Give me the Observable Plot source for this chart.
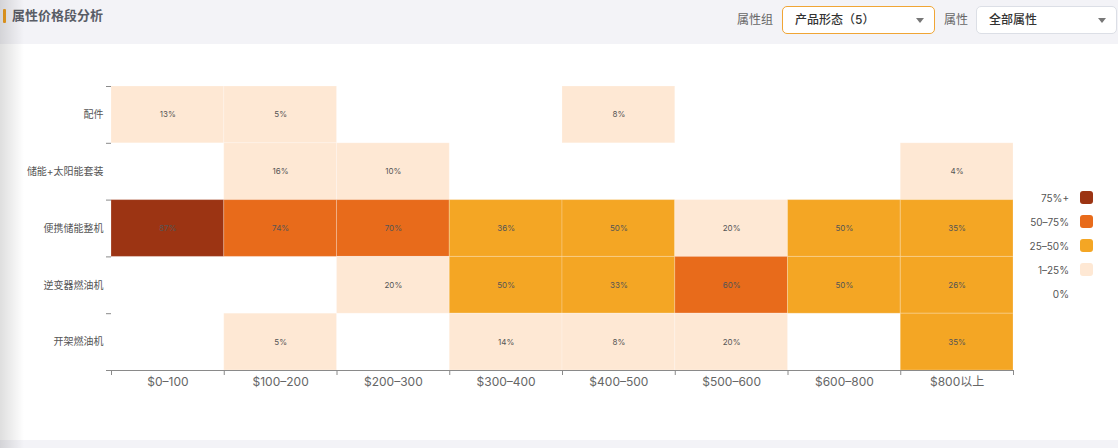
<!DOCTYPE html>
<html><head><meta charset="utf-8">
<script src="https://cdn.jsdelivr.net/npm/d3@7"></script>
<script src="https://cdn.jsdelivr.net/npm/@observablehq/plot@0.6"></script>
<style>
html,body{margin:0;padding:0;width:1118px;height:448px;overflow:hidden;background:#f3f3f7;font-family:Inter,"Noto Sans CJK SC",sans-serif;}
#header{position:absolute;left:0;top:0;width:1118px;height:44px;background:#f3f3f7;}
#title{position:absolute;left:12px;top:6px;font-size:13px;font-weight:bold;color:#595d66;line-height:18px;}
#bar{position:absolute;left:3px;top:9px;width:3px;height:14px;background:#f0a020;border-radius:1px;}
.lbl{position:absolute;top:12px;font-size:12px;color:#666;line-height:16px;}
.sel{position:absolute;top:6px;height:28px;box-sizing:border-box;background:#fff;border-radius:5px;font-size:12px;color:#333;line-height:26px;padding-left:12px;font-weight:500;}
.sel .arr{position:absolute;right:10px;top:11px;width:0;height:0;border-left:4px solid transparent;border-right:4px solid transparent;border-top:5px solid #777;}
#card{position:absolute;left:0;top:44px;width:1118px;height:396px;background:#fff;}
#shade{position:absolute;left:0;top:0;width:24px;height:448px;background:linear-gradient(to right,rgba(0,0,0,0.13),rgba(0,0,0,0));pointer-events:none;}
#legend{position:absolute;left:1000px;top:186px;width:100px;}
.li{position:relative;height:24px;}
.li span{position:absolute;right:31px;top:5px;font-size:10px;color:#555;line-height:14px;}
.li i{position:absolute;left:80px;top:5px;width:13px;height:13px;border-radius:3px;}
</style></head>
<body>
<div id="header">
  <div id="bar"></div><div id="title">属性价格段分析</div>
  <div class="lbl" style="left:737px">属性组</div>
  <div class="sel" style="left:782px;width:153px;border:1px solid #f0a535">产品形态（5）<div class="arr"></div></div>
  <div class="lbl" style="left:944px">属性</div>
  <div class="sel" style="left:976px;width:141px;border:1px solid #dcdfe6">全部属性<div class="arr"></div></div>
</div>
<div id="card"></div>
<div id="legend"></div>
<div id="shade"></div>
<script>
// categories
const rows = ["配件", "储能+太阳能套装", "便携储能整机", "逆变器燃油机", "开架燃油机"];
const cols = ["$0–100", "$100–200", "$200–300", "$300–400", "$400–500", "$500–600", "$600–800", "$800以上"];
// series values (% per price band)
const peijian        = [13, 5, 0, 0, 8, 0, 0, 0];
const chunengTaiyang = [0, 16, 10, 0, 0, 0, 0, 4];
const bianxie        = [87, 74, 70, 36, 50, 20, 50, 35];
const nibianqi       = [0, 0, 20, 50, 33, 60, 50, 26];
const kaijia         = [0, 5, 0, 14, 8, 20, 0, 35];
// legend levels
const levels = ["75%+", "50–75%", "25–50%", "1–25%", "0%"];
const levelColors = ["#9c3413", "#e86b1b", "#f4a624", "#fee8d4", "#ffffff"];

const series = [peijian, chunengTaiyang, bianxie, nibianqi, kaijia];
const data = [];
rows.forEach((r, i) => cols.forEach((c, j) => data.push({row: r, col: c, v: series[i][j]})));
const level = v => v > 75 ? levels[0] : v > 50 ? levels[1] : v > 25 ? levels[2] : v > 0 ? levels[3] : levels[4];
const filled = data.filter(d => d.v > 0);

function frameTicks(index, scales, values, dimensions) {
  const {x, y} = scales;
  const {width, height, marginLeft, marginRight, marginTop, marginBottom} = dimensions;
  const bwx = typeof x.bandwidth === "function" ? x.bandwidth() : (width - marginLeft - marginRight) / cols.length;
  const bwy = typeof y.bandwidth === "function" ? y.bandwidth() : (height - marginTop - marginBottom) / rows.length;
  const g = d3.create("svg:g").attr("stroke", "#8a8a8a").attr("stroke-width", 1);
  const yb = y(rows[rows.length - 1]) + bwy;
  const x0 = x(cols[0]), x1 = x(cols[cols.length - 1]) + bwx;
  g.append("line").attr("x1", x0).attr("x2", x1).attr("y1", yb + 0.5).attr("y2", yb + 0.5);
  const xs = cols.map(c => x(c)).concat([x1]);
  xs.forEach(px => g.append("line").attr("x1", px + 0.5).attr("x2", px + 0.5).attr("y1", yb).attr("y2", yb + 5));
  const ys = rows.map(r => y(r)).concat([yb]);
  ys.forEach(py => g.append("line").attr("x1", x0 - 5).attr("x2", x0).attr("y1", py + 0.5).attr("y2", py + 0.5));
  return g.node();
}

const plot = Plot.plot({
  width: 1118,
  height: 396,
  marginTop: 42,
  marginBottom: 70,
  marginLeft: 111,
  marginRight: 105,
  style: {fontFamily: "Inter, 'Noto Sans CJK SC', sans-serif", background: "transparent"},
  x: {domain: cols, padding: 0, round: false, label: null},
  y: {domain: rows, padding: 0, round: false, label: null},
  color: {domain: levels, range: levelColors},
  marks: [
    Plot.cell(filled, {x: "col", y: "row", fill: d => level(d.v), stroke: "#ffffff", strokeOpacity: 0.22, strokeWidth: 1}),
    Plot.text(filled, {x: "col", y: "row", text: d => d.v + "%", fontSize: 8, fill: "#555"}),
    Plot.axisY({tickSize: 0, tickPadding: 8, fontSize: 10, color: "#555", label: null}),
    Plot.axisX({tickSize: 0, tickPadding: 7, fontSize: 12, color: "#666", label: null}),
    frameTicks
  ]
});
document.getElementById("card").appendChild(plot);

const legend = d3.select("#legend");
levels.forEach((l, i) => {
  const it = legend.append("div").attr("class", "li");
  it.append("span").text(l);
  if (i < levels.length - 1) it.append("i").style("background", levelColors[i]);
});
</script>
</body></html>
